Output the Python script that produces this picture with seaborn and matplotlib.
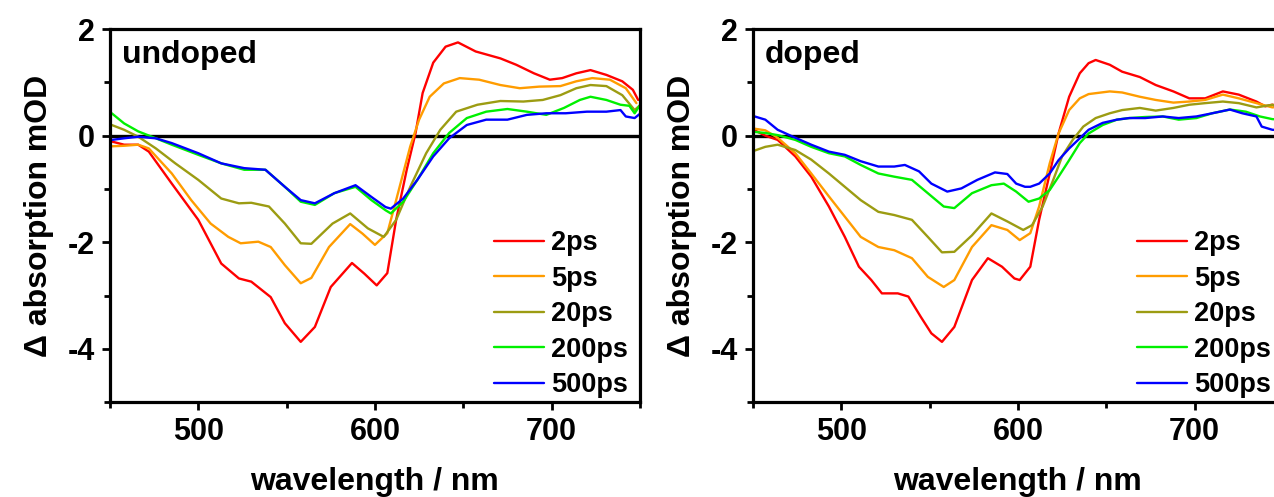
import matplotlib
matplotlib.use('Agg')
import matplotlib.pyplot as plt
from matplotlib.ticker import MultipleLocator
import numpy as np
import pandas as pd
import seaborn as sns

# transient absorption spectra (wavelength in nm, signal in mOD)
delays = ['2ps', '5ps', '20ps', '200ps', '500ps']
colors = ['#ff0000', '#ff9c00', '#9c9c12', '#00f000', '#0000ff']

# --- undoped ---
und_2ps_wl = [451, 458, 466, 472, 485, 500, 513, 523, 530, 541, 549, 558, 566, 575, 587, 594,
              601, 607, 612, 618, 623, 627, 633, 640, 647, 657, 671, 680, 690, 699, 706, 714,
              722, 731, 740, 746, 749]
und_2ps = [-0.11, -0.17, -0.17, -0.30, -0.90, -1.58, -2.40, -2.68, -2.74, -3.03, -3.52, -3.87,
           -3.59, -2.84, -2.39, -2.59, -2.81, -2.58, -1.58, -0.64, 0.05, 0.80, 1.37, 1.67, 1.75,
           1.58, 1.45, 1.33, 1.17, 1.05, 1.08, 1.17, 1.23, 1.14, 1.02, 0.86, 0.67]

und_5ps_wl = [451, 458, 466, 472, 485, 496, 507, 517, 524, 534, 541, 549, 558, 564, 574, 586,
              593, 600, 607, 612, 620, 625, 631, 639, 648, 659, 671, 682, 693, 705, 714, 723,
              733, 742, 748]
und_5ps = [-0.20, -0.19, -0.17, -0.24, -0.71, -1.21, -1.65, -1.90, -2.02, -1.99, -2.09, -2.43,
           -2.77, -2.67, -2.09, -1.66, -1.84, -2.05, -1.83, -1.21, -0.20, 0.30, 0.73, 0.98, 1.08,
           1.05, 0.95, 0.89, 0.92, 0.93, 1.02, 1.08, 1.05, 0.89, 0.61]

und_20ps_wl = [451, 458, 466, 476, 487, 500, 513, 523, 530, 540, 549, 558, 564, 576, 586, 596,
               605, 612, 620, 629, 637, 646, 658, 671, 684, 695, 705, 714, 722, 731, 740, 747, 750]
und_20ps = [0.20, 0.11, -0.02, -0.24, -0.52, -0.83, -1.18, -1.27, -1.26, -1.33, -1.65, -2.02,
            -2.03, -1.65, -1.46, -1.74, -1.90, -1.58, -0.96, -0.33, 0.11, 0.45, 0.58, 0.65, 0.64,
            0.67, 0.76, 0.89, 0.95, 0.93, 0.76, 0.48, 0.57]

und_200ps_wl = [451, 458, 466, 476, 485, 500, 513, 526, 538, 549, 558, 566, 577, 589, 598, 606,
                609, 616, 624, 633, 642, 652, 663, 675, 686, 697, 707, 716, 722, 731, 739, 744,
                747, 750]
und_200ps = [0.42, 0.23, 0.08, -0.05, -0.17, -0.36, -0.52, -0.64, -0.64, -0.96, -1.24, -1.30,
             -1.08, -0.96, -1.21, -1.40, -1.46, -1.24, -0.83, -0.33, 0.05, 0.33, 0.45, 0.50,
             0.45, 0.39, 0.52, 0.67, 0.73, 0.67, 0.58, 0.56, 0.42, 0.57]

und_500ps_wl = [451, 458, 466, 476, 485, 500, 513, 526, 538, 549, 558, 566, 577, 589, 598, 606,
                609, 616, 624, 633, 642, 652, 663, 675, 686, 697, 708, 720, 731, 739, 742, 747, 750]
und_500ps = [-0.08, -0.05, -0.02, -0.05, -0.14, -0.33, -0.52, -0.61, -0.64, -0.96, -1.21, -1.27,
             -1.08, -0.93, -1.15, -1.34, -1.37, -1.18, -0.83, -0.39, -0.05, 0.20, 0.30, 0.30,
             0.39, 0.42, 0.42, 0.45, 0.45, 0.48, 0.36, 0.33, 0.41]

# --- doped ---
dop_2ps_wl = [451, 457, 464, 474, 483, 493, 502, 510, 517, 523, 532, 538, 545, 551, 557, 564,
              574, 583, 591, 598, 601, 607, 612, 618, 623, 629, 635, 640, 644, 652, 659, 669,
              678, 688, 697, 706, 716, 725, 735, 740, 744, 750]
dop_2ps = [0.10, 0.00, -0.08, -0.39, -0.77, -1.33, -1.90, -2.46, -2.71, -2.96, -2.96, -3.02,
           -3.40, -3.71, -3.87, -3.59, -2.71, -2.30, -2.46, -2.68, -2.71, -2.46, -1.58, -0.71,
           0.04, 0.73, 1.17, 1.36, 1.42, 1.33, 1.20, 1.10, 0.95, 0.83, 0.70, 0.70, 0.83, 0.77,
           0.64, 0.55, 0.58, 0.55]

dop_5ps_wl = [451, 457, 464, 474, 483, 493, 502, 511, 521, 530, 540, 549, 558, 564, 574, 585,
              594, 601, 607, 612, 618, 623, 629, 635, 640, 652, 659, 669, 678, 688, 697, 706,
              716, 725, 735, 744, 750]
dop_5ps = [0.13, 0.10, -0.04, -0.33, -0.71, -1.14, -1.52, -1.90, -2.09, -2.15, -2.30, -2.65,
           -2.84, -2.71, -2.09, -1.68, -1.77, -1.96, -1.83, -1.33, -0.52, 0.04, 0.48, 0.70, 0.78,
           0.83, 0.81, 0.73, 0.67, 0.62, 0.64, 0.67, 0.77, 0.70, 0.61, 0.53, 0.55]

dop_20ps_wl = [451, 457, 464, 474, 483, 493, 502, 511, 521, 530, 540, 549, 557, 564, 574, 585,
               594, 603, 608, 614, 620, 625, 631, 637, 644, 652, 659, 669, 678, 688, 697, 706,
               716, 725, 735, 744, 750]
dop_20ps = [-0.28, -0.21, -0.17, -0.27, -0.45, -0.71, -0.96, -1.21, -1.43, -1.49, -1.58, -1.90,
            -2.19, -2.18, -1.87, -1.46, -1.61, -1.77, -1.68, -1.33, -0.83, -0.39, -0.08, 0.17,
            0.33, 0.42, 0.48, 0.52, 0.47, 0.52, 0.58, 0.61, 0.64, 0.61, 0.53, 0.58, 0.50]

dop_200ps_wl = [451, 457, 464, 474, 483, 493, 502, 511, 521, 530, 540, 549, 558, 564, 574, 585,
                592, 599, 606, 612, 618, 623, 629, 635, 640, 648, 656, 663, 672, 682, 691, 701,
                710, 720, 729, 737, 744, 750]
dop_200ps = [0.07, 0.05, 0.01, -0.08, -0.21, -0.33, -0.39, -0.55, -0.71, -0.77, -0.83, -1.08,
             -1.33, -1.36, -1.08, -0.93, -0.90, -1.05, -1.24, -1.18, -1.02, -0.77, -0.46, -0.14,
             0.04, 0.20, 0.30, 0.33, 0.35, 0.36, 0.30, 0.33, 0.42, 0.49, 0.45, 0.36, 0.31, 0.30]

dop_500ps_wl = [451, 457, 464, 474, 483, 493, 502, 511, 521, 530, 536, 544, 551, 560, 568, 577,
                587, 594, 599, 604, 607, 612, 618, 623, 629, 635, 640, 648, 656, 663, 672, 682,
                691, 701, 710, 720, 727, 735, 738, 744, 750]
dop_500ps = [0.36, 0.30, 0.11, -0.04, -0.17, -0.30, -0.36, -0.48, -0.58, -0.58, -0.55, -0.67,
             -0.90, -1.05, -0.99, -0.83, -0.69, -0.72, -0.90, -0.96, -0.96, -0.90, -0.71, -0.46,
             -0.24, -0.05, 0.11, 0.24, 0.30, 0.33, 0.33, 0.36, 0.33, 0.36, 0.42, 0.49, 0.42,
             0.36, 0.17, 0.11, 0.10]

undoped = [(und_2ps_wl, und_2ps), (und_5ps_wl, und_5ps), (und_20ps_wl, und_20ps),
           (und_200ps_wl, und_200ps), (und_500ps_wl, und_500ps)]
doped = [(dop_2ps_wl, dop_2ps), (dop_5ps_wl, dop_5ps), (dop_20ps_wl, dop_20ps),
         (dop_200ps_wl, dop_200ps), (dop_500ps_wl, dop_500ps)]

sns.set_style('ticks')
plt.rcParams['font.family'] = ['Liberation Sans', 'DejaVu Sans']
plt.rcParams['font.weight'] = 'bold'
plt.rcParams['axes.labelweight'] = 'bold'
plt.rcParams['axes.unicode_minus'] = False  # plain hyphen like the original
for key in ['text.color', 'axes.labelcolor', 'xtick.color', 'ytick.color']:
    plt.rcParams[key] = 'black'


def draw_panel(ax, series, name):
    frames = []
    for delay, (wl, val) in zip(delays, series):
        frames.append(pd.DataFrame({'wavelength': wl, 'signal': val, 'delay': delay}))
    df = pd.concat(frames, ignore_index=True)

    ax.axhline(0, color='black', lw=2.4, zorder=1)
    sns.lineplot(data=df, x='wavelength', y='signal', hue='delay', hue_order=delays,
                 palette=colors, estimator=None, sort=False, lw=1.7, ax=ax, legend=False,
                 zorder=2)

    lines = [l for l in ax.get_lines() if l.get_color() != 'black'][:5]
    ax.legend(lines, delays, loc='lower left', bbox_to_anchor=(0.725, 0.01), frameon=False,
              fontsize=19.5, handlelength=1.85, handletextpad=0.25, labelspacing=0.35,
              borderpad=0, borderaxespad=0)

    ax.set_xlim(450, 750)
    ax.set_ylim(-5, 2)
    ax.set_xticks([500, 600, 700])
    ax.set_yticks([-4, -2, 0, 2])
    ax.xaxis.set_minor_locator(MultipleLocator(50))
    ax.yaxis.set_minor_locator(MultipleLocator(1))
    ax.tick_params(which='major', direction='out', length=6, width=2, labelsize=22, pad=5)
    ax.tick_params(which='minor', direction='out', length=4, width=2)
    for sp in ax.spines.values():
        sp.set_linewidth(2.3)
        sp.set_color('black')

    ax.set_xlabel('wavelength / nm', fontsize=23, labelpad=14)
    ax.set_ylabel('\u0394 absorption mOD', fontsize=23, labelpad=10)
    ax.text(0.022, 0.972, name, transform=ax.transAxes, va='top', ha='left',
            fontsize=23, fontweight='bold')


fig = plt.figure(figsize=(12.74, 4.97), dpi=100)
ax_left = fig.add_axes([0.0863, 0.191, 0.416, 0.7505])
ax_right = fig.add_axes([0.591, 0.191, 0.416, 0.7505])

draw_panel(ax_left, undoped, 'undoped')
draw_panel(ax_right, doped, 'doped')

fig.savefig('out.png', dpi=100)
